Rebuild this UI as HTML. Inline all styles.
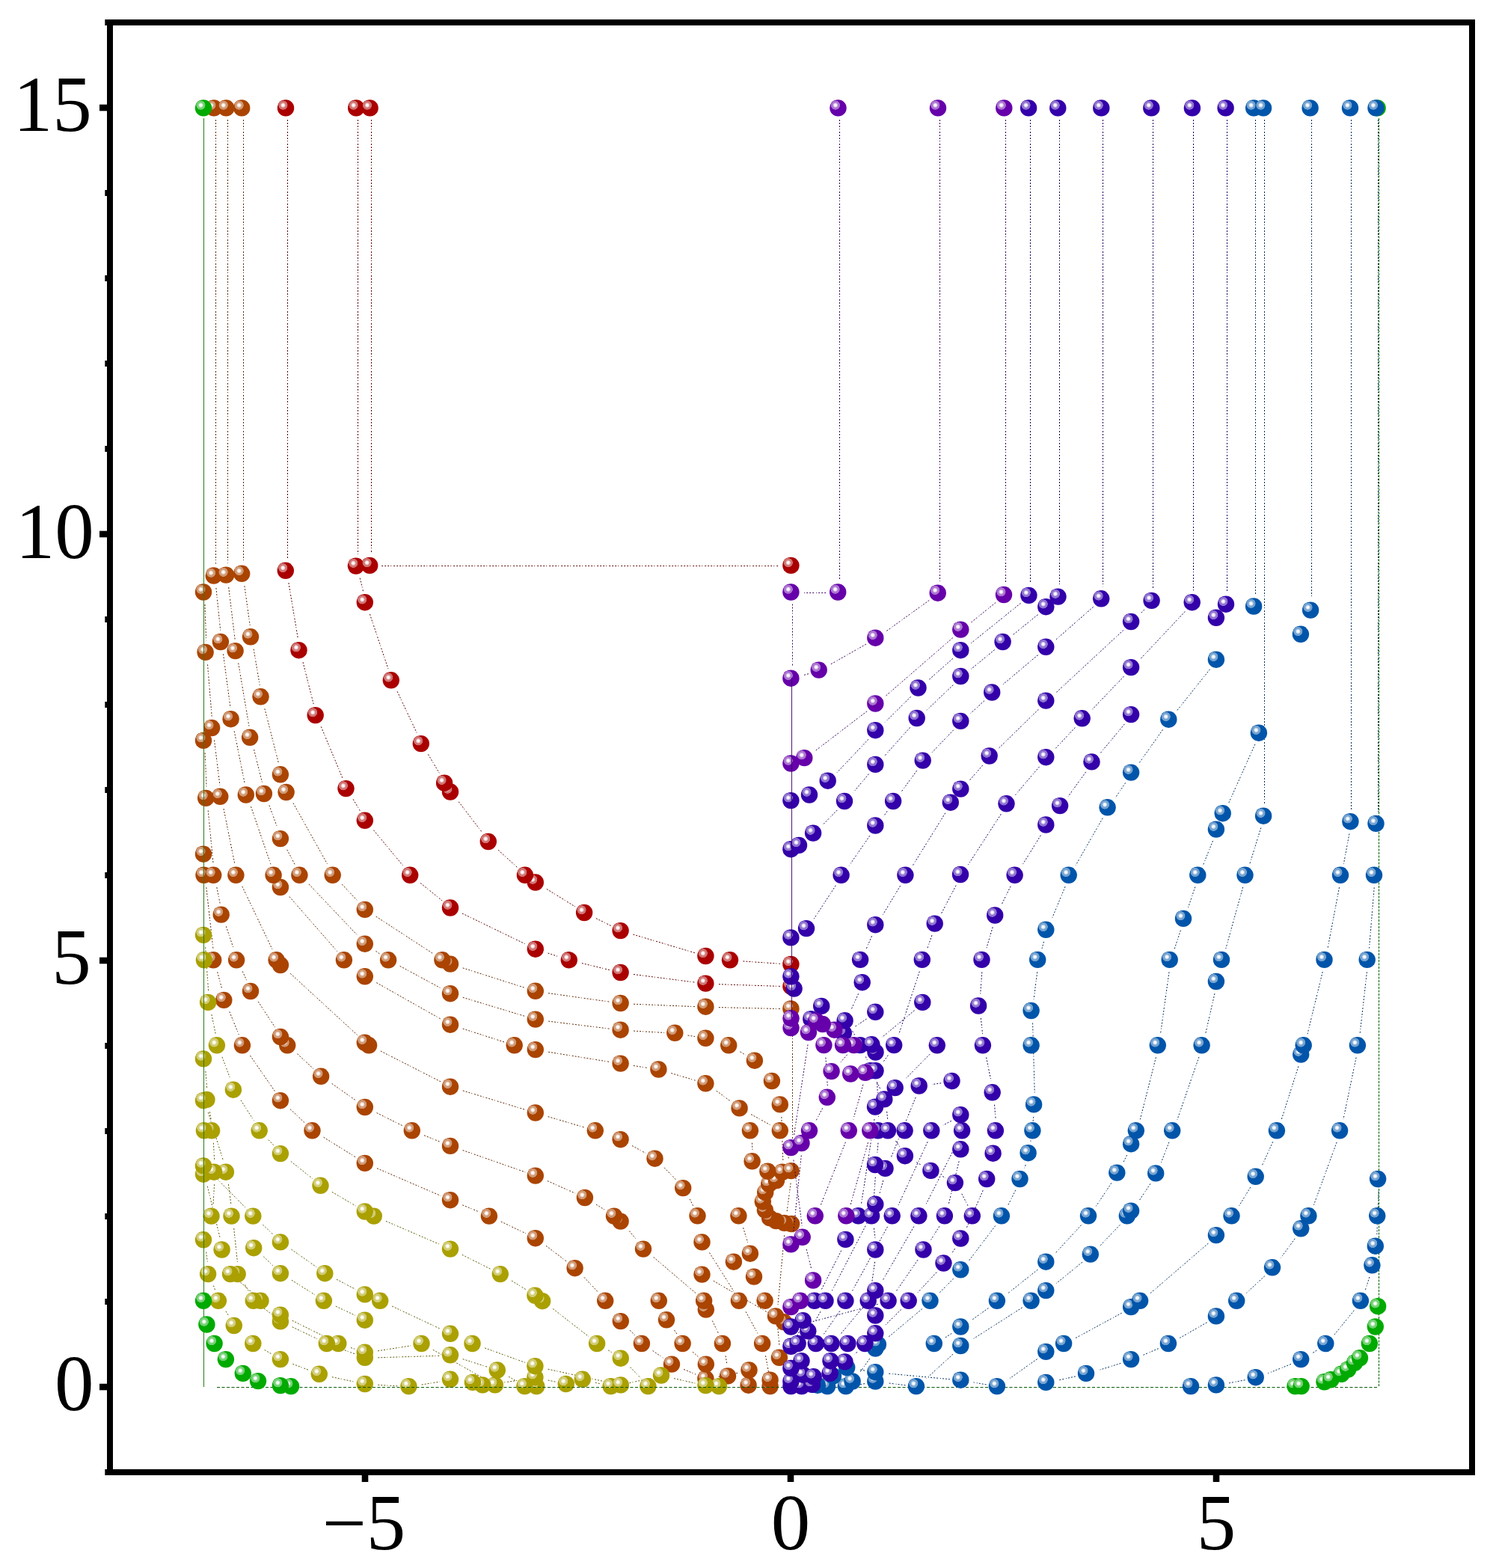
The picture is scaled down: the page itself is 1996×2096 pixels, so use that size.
<!DOCTYPE html>
<html><head><meta charset="utf-8"><title>plot</title><style>html,body{margin:0;padding:0;background:#fff}svg{display:block}</style></head>
<body><svg width="1996" height="2096" viewBox="0 0 1996 2096"><defs><radialGradient id="hR"><stop offset="0" stop-color="#fff"/><stop offset="0.18" stop-color="#fff"/><stop offset="0.4" stop-color="#eabfbf"/><stop offset="0.58" stop-color="#d07373"/><stop offset="0.9" stop-color="#d07373"/><stop offset="1" stop-color="#aa0000"/></radialGradient><g id="sR"><circle r="11.2" fill="#aa0000"/><circle cx="-3.6" cy="-3.8" r="6.4" fill="url(#hR)"/></g><radialGradient id="hB"><stop offset="0" stop-color="#fff"/><stop offset="0.18" stop-color="#fff"/><stop offset="0.4" stop-color="#ead0bf"/><stop offset="0.58" stop-color="#d09873"/><stop offset="0.9" stop-color="#d09873"/><stop offset="1" stop-color="#aa4400"/></radialGradient><g id="sB"><circle r="11.2" fill="#aa4400"/><circle cx="-3.6" cy="-3.8" r="6.4" fill="url(#hB)"/></g><radialGradient id="hY"><stop offset="0" stop-color="#fff"/><stop offset="0.18" stop-color="#fff"/><stop offset="0.4" stop-color="#eae7bf"/><stop offset="0.58" stop-color="#d0cb73"/><stop offset="0.9" stop-color="#d0cb73"/><stop offset="1" stop-color="#aaa000"/></radialGradient><g id="sY"><circle r="11.2" fill="#aaa000"/><circle cx="-3.6" cy="-3.8" r="6.4" fill="url(#hY)"/></g><radialGradient id="hG"><stop offset="0" stop-color="#fff"/><stop offset="0.18" stop-color="#fff"/><stop offset="0.4" stop-color="#bfeabf"/><stop offset="0.58" stop-color="#73d073"/><stop offset="0.9" stop-color="#73d073"/><stop offset="1" stop-color="#00aa00"/></radialGradient><g id="sG"><circle r="11.2" fill="#00aa00"/><circle cx="-3.6" cy="-3.8" r="6.4" fill="url(#hG)"/></g><radialGradient id="hL"><stop offset="0" stop-color="#fff"/><stop offset="0.18" stop-color="#fff"/><stop offset="0.4" stop-color="#bfd4ea"/><stop offset="0.58" stop-color="#73a2d0"/><stop offset="0.9" stop-color="#73a2d0"/><stop offset="1" stop-color="#0055aa"/></radialGradient><g id="sL"><circle r="11.2" fill="#0055aa"/><circle cx="-3.6" cy="-3.8" r="6.4" fill="url(#hL)"/></g><radialGradient id="hI"><stop offset="0" stop-color="#fff"/><stop offset="0.18" stop-color="#fff"/><stop offset="0.4" stop-color="#ccbfea"/><stop offset="0.58" stop-color="#8f73d0"/><stop offset="0.9" stop-color="#8f73d0"/><stop offset="1" stop-color="#3300aa"/></radialGradient><g id="sI"><circle r="11.2" fill="#3300aa"/><circle cx="-3.6" cy="-3.8" r="6.4" fill="url(#hI)"/></g><radialGradient id="hP"><stop offset="0" stop-color="#fff"/><stop offset="0.18" stop-color="#fff"/><stop offset="0.4" stop-color="#d9bfea"/><stop offset="0.58" stop-color="#ab73d0"/><stop offset="0.9" stop-color="#ab73d0"/><stop offset="1" stop-color="#6600aa"/></radialGradient><g id="sP"><circle r="11.2" fill="#6600aa"/><circle cx="-3.6" cy="-3.8" r="6.4" fill="url(#hP)"/></g></defs><rect width="1996" height="2096" fill="#fff"/>
<rect x="147" y="30" width="1821" height="1938" fill="none" stroke="#000" stroke-width="8"/>
<rect x="140.3" y="1964.0" width="5" height="8" fill="#000"/>
<rect x="133" y="1849.7" width="12" height="8.6" fill="#000"/>
<rect x="140.3" y="1736.0" width="5" height="8" fill="#000"/>
<rect x="140.3" y="1622.0" width="5" height="8" fill="#000"/>
<rect x="140.3" y="1508.0" width="5" height="8" fill="#000"/>
<rect x="140.3" y="1394.0" width="5" height="8" fill="#000"/>
<rect x="133" y="1279.7" width="12" height="8.6" fill="#000"/>
<rect x="140.3" y="1166.0" width="5" height="8" fill="#000"/>
<rect x="140.3" y="1052.0" width="5" height="8" fill="#000"/>
<rect x="140.3" y="938.0" width="5" height="8" fill="#000"/>
<rect x="140.3" y="824.0" width="5" height="8" fill="#000"/>
<rect x="133" y="709.7" width="12" height="8.6" fill="#000"/>
<rect x="140.3" y="596.0" width="5" height="8" fill="#000"/>
<rect x="140.3" y="482.0" width="5" height="8" fill="#000"/>
<rect x="140.3" y="368.0" width="5" height="8" fill="#000"/>
<rect x="140.3" y="254.0" width="5" height="8" fill="#000"/>
<rect x="133" y="139.7" width="12" height="8.6" fill="#000"/>
<rect x="140.3" y="26.0" width="5" height="8" fill="#000"/>
<rect x="483.7" y="1966" width="8.6" height="15" fill="#000"/>
<rect x="1052.7" y="1966" width="8.6" height="15" fill="#000"/>
<rect x="1621.7" y="1966" width="8.6" height="15" fill="#000"/>
<g style="font-family:&quot;Liberation Serif&quot;,serif;font-size:105px" fill="#000"><text x="122.8" y="175.0" text-anchor="end">15</text><text x="125.7" y="745.8" text-anchor="end">10</text><text x="121.7" y="1315.0" text-anchor="end">5</text><text x="125.6" y="1885.0" text-anchor="end">0</text><text x="486.5" y="2070.5" text-anchor="middle">−5</text><text x="1057.0" y="2070.5" text-anchor="middle">0</text><text x="1626.0" y="2070.5" text-anchor="middle">5</text></g>
<path d="M384.5 160.0L384.5 746.8M478.5 160.0L478.5 740.6M496.5 160.0L496.5 739.9M510.2 756.5L1041.4 756.5M385.9 779.1L398.4 853.9M405.0 885.2L419.2 941.1M429.3 971.4L457.8 1039.8M472.1 1068.4L481.2 1083.6M499.5 1109.7L539.5 1158.0M562.1 1180.4L591.1 1203.9M617.9 1221.0L702.9 1262.2M732.5 1274.1L747.1 1278.9M777.9 1287.6L815.6 1296.7M847.0 1302.5L929.1 1313.1M960.9 1315.7L1042.9 1318.4M481.2 772.7L485.5 790.2M494.4 820.9L519.2 894.7M531.1 924.3L557.4 980.1M572.4 1008.4L587.4 1033.5M613.2 1071.7L644.6 1112.8M666.1 1136.3L691.6 1159.5M730.9 1188.4L769.0 1212.0M796.9 1227.6L816.8 1237.5M846.4 1249.1L929.6 1273.9M993.4 1284.9L1042.9 1288.3" fill="none" stroke="#5d0000" stroke-width="1" stroke-dasharray="2 2 2 2 2 2 1 3"/>
<use href="#sR" x="1057.4" y="1318.5"/>
<use href="#sR" x="943.4" y="1314.6"/>
<use href="#sR" x="829.6" y="1300.0"/>
<use href="#sR" x="1057.4" y="1288.9"/>
<use href="#sR" x="760.8" y="1283.3"/>
<use href="#sR" x="976.0" y="1283.3"/>
<use href="#sR" x="943.4" y="1278.0"/>
<use href="#sR" x="715.8" y="1268.7"/>
<use href="#sR" x="829.6" y="1244.1"/>
<use href="#sR" x="781.1" y="1220.0"/>
<use href="#sR" x="602.0" y="1213.5"/>
<use href="#sR" x="715.8" y="1179.5"/>
<use href="#sR" x="548.2" y="1169.8"/>
<use href="#sR" x="701.9" y="1169.8"/>
<use href="#sR" x="652.8" y="1125.0"/>
<use href="#sR" x="487.8" y="1096.8"/>
<use href="#sR" x="602.0" y="1058.5"/>
<use href="#sR" x="462.5" y="1054.1"/>
<use href="#sR" x="594.1" y="1046.7"/>
<use href="#sR" x="562.8" y="994.1"/>
<use href="#sR" x="421.7" y="956.1"/>
<use href="#sR" x="522.8" y="909.3"/>
<use href="#sR" x="399.5" y="869.2"/>
<use href="#sR" x="487.8" y="805.2"/>
<use href="#sR" x="381.8" y="762.8"/>
<use href="#sR" x="475.9" y="756.6"/>
<use href="#sR" x="494.2" y="755.9"/>
<use href="#sR" x="1057.4" y="755.9"/>
<use href="#sR" x="382.0" y="144.4"/>
<use href="#sR" x="476.2" y="144.4"/>
<use href="#sR" x="494.6" y="144.4"/>
<path d="M288.5 160.0L288.5 753.5M304.5 160.0L304.5 752.6M325.5 160.0L325.5 750.8M1059.5 1376.0L1059.5 1544.0M288.9 785.9L294.7 842.5M298.5 874.3L308.0 945.9M313.2 977.4L327.2 1047.4M335.5 1078.2L361.9 1155.2M386.9 1198.6L450.8 1271.7M503.3 1313.6L589.6 1362.3M305.7 785.0L314.1 854.7M318.7 886.4L332.9 970.6M339.5 1001.9L350.5 1045.9M359.9 1076.5L370.9 1106.6M383.8 1135.8L394.5 1156.2M412.9 1181.9L478.3 1250.7M502.5 1271.4L507.4 1274.8M534.7 1291.4L589.4 1321.0M326.9 783.2L334.2 835.9M339.1 867.6L347.3 916.0M353.9 947.3L372.5 1020.3M392.0 1073.5L438.4 1156.4M457.2 1182.0L478.4 1204.7M502.7 1225.1L579.5 1275.1M274.0 808.0L275.6 856.4M277.5 888.3L283.2 957.6M286.5 989.4L293.9 1049.4M299.0 1081.0L313.8 1154.7M323.8 1184.8L364.2 1269.4M388.2 1301.3L477.5 1383.4M274.1 1006.4L276.0 1051.5M278.2 1083.4L285.1 1154.4M289.8 1186.0L294.1 1207.4M302.3 1238.3L312.5 1268.6M324.2 1298.4L329.9 1310.9M345.2 1338.9L367.6 1373.1M397.5 1408.7L418.8 1428.4M275.8 1186.2L284.9 1267.9M290.7 1299.3L296.7 1322.0M306.8 1352.3L319.3 1383.0M618.7 1375.1L673.9 1392.9M733.1 1406.2L815.3 1419.5M846.9 1424.5L866.1 1427.5M897.3 1434.6L929.6 1444.2M957.8 1458.2L977.2 1472.4M1004.1 1489.6L1030.3 1504.0M1048.5 1527.2L1054.9 1550.2M1057.1 1581.5L1052.1 1619.5M1048.6 1651.3L1040.0 1744.0M1039.9 1775.8L1042.0 1799.4M618.8 1333.3L702.0 1358.5M733.2 1365.1L815.2 1375.2M847.1 1378.1L887.8 1380.4M919.5 1384.0L929.1 1385.6M989.5 1405.9L996.6 1410.1M1044.8 1492.9L1046.8 1551.3M618.7 1293.9L702.1 1320.5M733.1 1327.6L815.3 1339.2M847.1 1342.2L928.9 1345.6M960.9 1346.6L1042.9 1348.5M508.9 1405.0L589.2 1445.9M618.8 1457.9L702.0 1483.3M732.6 1492.6L782.0 1507.2M845.1 1531.5L863.0 1541.5M888.1 1560.8L903.6 1577.0M922.1 1602.8L926.6 1611.6M948.5 1674.5L980.9 1725.8M997.1 1753.4L1012.9 1782.4M1023.5 1812.2L1028.2 1837.9M443.7 1448.5L476.2 1471.3M503.6 1487.6L538.0 1504.7M567.1 1517.7L588.6 1526.4M618.6 1537.6L702.2 1566.8M731.9 1578.6L768.8 1595.0M797.0 1610.0L809.0 1617.6M841.3 1645.5L851.4 1657.7M873.7 1680.5L930.5 1728.9M952.3 1765.5L960.4 1782.1M970.0 1812.3L971.9 1824.1M334.5 1411.0L367.3 1458.5M388.0 1482.6L407.3 1500.8M432.6 1520.2L475.7 1547.0M504.0 1561.7L588.8 1598.3M618.3 1610.8L640.6 1620.0M669.8 1633.0L702.9 1648.8M730.0 1665.3L757.3 1686.0M781.0 1707.4L799.8 1727.6M842.2 1778.2L848.5 1784.8M872.6 1805.5L886.4 1815.0M914.2 1830.4L930.2 1837.2M960.6 1840.3L987.3 1835.1M901.5 1778.0L905.1 1783.3M926.1 1807.1L933.3 1813.5M953.8 1712.2L1035.7 1759.8M993.6 1641.1L999.7 1660.9M1005.4 1527.7L1006.0 1536.8" fill="none" stroke="#5d2500" stroke-width="1" stroke-dasharray="2 2 2 2 2 2 1 3"/>
<use href="#sB" x="1029.6" y="1853.1"/>
<use href="#sB" x="1000.6" y="1851.7"/>
<use href="#sB" x="1029.6" y="1844.7"/>
<use href="#sB" x="943.4" y="1842.9"/>
<use href="#sB" x="973.0" y="1839.4"/>
<use href="#sB" x="1001.5" y="1831.5"/>
<use href="#sB" x="898.0" y="1823.6"/>
<use href="#sB" x="943.8" y="1823.6"/>
<use href="#sB" x="1041.9" y="1814.8"/>
<use href="#sB" x="857.9" y="1796.0"/>
<use href="#sB" x="912.6" y="1796.0"/>
<use href="#sB" x="965.9" y="1796.0"/>
<use href="#sB" x="1019.1" y="1796.0"/>
<use href="#sB" x="829.8" y="1766.1"/>
<use href="#sB" x="1048.1" y="1767.3"/>
<use href="#sB" x="891.0" y="1764.3"/>
<use href="#sB" x="1037.0" y="1759.4"/>
<use href="#sB" x="943.8" y="1750.6"/>
<use href="#sB" x="809.2" y="1738.8"/>
<use href="#sB" x="880.8" y="1738.8"/>
<use href="#sB" x="941.1" y="1738.8"/>
<use href="#sB" x="987.9" y="1738.8"/>
<use href="#sB" x="1022.6" y="1738.8"/>
<use href="#sB" x="1008.0" y="1706.6"/>
<use href="#sB" x="938.5" y="1703.6"/>
<use href="#sB" x="768.6" y="1695.2"/>
<use href="#sB" x="980.9" y="1686.7"/>
<use href="#sB" x="1002.9" y="1675.7"/>
<use href="#sB" x="860.0" y="1669.6"/>
<use href="#sB" x="938.5" y="1660.4"/>
<use href="#sB" x="715.8" y="1655.2"/>
<use href="#sB" x="1058.1" y="1636.0"/>
<use href="#sB" x="1048.6" y="1634.9"/>
<use href="#sB" x="829.6" y="1632.6"/>
<use href="#sB" x="1037.5" y="1632.1"/>
<use href="#sB" x="1029.1" y="1628.2"/>
<use href="#sB" x="821.0" y="1625.6"/>
<use href="#sB" x="653.9" y="1625.6"/>
<use href="#sB" x="932.5" y="1625.3"/>
<use href="#sB" x="987.4" y="1625.3"/>
<use href="#sB" x="1022.9" y="1617.6"/>
<use href="#sB" x="602.0" y="1604.2"/>
<use href="#sB" x="1019.8" y="1606.3"/>
<use href="#sB" x="781.9" y="1601.0"/>
<use href="#sB" x="1023.2" y="1594.0"/>
<use href="#sB" x="913.2" y="1588.1"/>
<use href="#sB" x="1028.2" y="1582.9"/>
<use href="#sB" x="1038.0" y="1578.0"/>
<use href="#sB" x="715.8" y="1571.6"/>
<use href="#sB" x="1045.8" y="1566.8"/>
<use href="#sB" x="1057.6" y="1565.1"/>
<use href="#sB" x="1026.3" y="1565.7"/>
<use href="#sB" x="487.8" y="1554.9"/>
<use href="#sB" x="1005.6" y="1552.3"/>
<use href="#sB" x="875.5" y="1548.7"/>
<use href="#sB" x="602.0" y="1531.9"/>
<use href="#sB" x="829.6" y="1523.2"/>
<use href="#sB" x="417.5" y="1511.3"/>
<use href="#sB" x="550.8" y="1511.3"/>
<use href="#sB" x="795.8" y="1511.3"/>
<use href="#sB" x="1002.9" y="1511.3"/>
<use href="#sB" x="1042.8" y="1511.3"/>
<use href="#sB" x="715.8" y="1487.5"/>
<use href="#sB" x="988.6" y="1481.4"/>
<use href="#sB" x="487.8" y="1480.0"/>
<use href="#sB" x="1042.8" y="1476.4"/>
<use href="#sB" x="374.9" y="1471.2"/>
<use href="#sB" x="602.0" y="1452.7"/>
<use href="#sB" x="943.4" y="1448.3"/>
<use href="#sB" x="1031.9" y="1445.0"/>
<use href="#sB" x="429.1" y="1438.8"/>
<use href="#sB" x="880.4" y="1429.5"/>
<use href="#sB" x="829.6" y="1421.6"/>
<use href="#sB" x="1008.9" y="1417.7"/>
<use href="#sB" x="715.8" y="1403.1"/>
<use href="#sB" x="323.9" y="1397.3"/>
<use href="#sB" x="384.2" y="1397.3"/>
<use href="#sB" x="493.1" y="1397.3"/>
<use href="#sB" x="687.7" y="1397.3"/>
<use href="#sB" x="974.2" y="1397.3"/>
<use href="#sB" x="487.8" y="1393.8"/>
<use href="#sB" x="943.4" y="1387.8"/>
<use href="#sB" x="374.9" y="1386.0"/>
<use href="#sB" x="902.3" y="1380.8"/>
<use href="#sB" x="829.6" y="1376.7"/>
<use href="#sB" x="602.0" y="1369.7"/>
<use href="#sB" x="715.8" y="1362.6"/>
<use href="#sB" x="943.4" y="1345.7"/>
<use href="#sB" x="1057.4" y="1348.4"/>
<use href="#sB" x="829.6" y="1341.0"/>
<use href="#sB" x="299.3" y="1336.9"/>
<use href="#sB" x="602.0" y="1328.2"/>
<use href="#sB" x="335.0" y="1325.0"/>
<use href="#sB" x="715.8" y="1324.8"/>
<use href="#sB" x="487.8" y="1305.3"/>
<use href="#sB" x="374.9" y="1290.0"/>
<use href="#sB" x="602.0" y="1288.6"/>
<use href="#sB" x="285.2" y="1283.3"/>
<use href="#sB" x="316.1" y="1283.3"/>
<use href="#sB" x="369.6" y="1283.3"/>
<use href="#sB" x="459.9" y="1283.3"/>
<use href="#sB" x="519.1" y="1283.3"/>
<use href="#sB" x="591.4" y="1283.3"/>
<use href="#sB" x="487.8" y="1261.8"/>
<use href="#sB" x="295.7" y="1222.6"/>
<use href="#sB" x="487.8" y="1215.9"/>
<use href="#sB" x="374.9" y="1186.0"/>
<use href="#sB" x="272.5" y="1169.8"/>
<use href="#sB" x="285.2" y="1169.8"/>
<use href="#sB" x="315.4" y="1169.8"/>
<use href="#sB" x="365.6" y="1169.8"/>
<use href="#sB" x="400.4" y="1169.8"/>
<use href="#sB" x="444.7" y="1169.8"/>
<use href="#sB" x="272.0" y="1141.7"/>
<use href="#sB" x="374.9" y="1121.1"/>
<use href="#sB" x="275.2" y="1066.9"/>
<use href="#sB" x="294.3" y="1064.8"/>
<use href="#sB" x="328.8" y="1062.5"/>
<use href="#sB" x="352.9" y="1061.0"/>
<use href="#sB" x="382.6" y="1059.0"/>
<use href="#sB" x="374.9" y="1035.3"/>
<use href="#sB" x="272.0" y="989.9"/>
<use href="#sB" x="334.1" y="985.8"/>
<use href="#sB" x="283.1" y="973.0"/>
<use href="#sB" x="308.6" y="961.2"/>
<use href="#sB" x="348.5" y="931.3"/>
<use href="#sB" x="274.6" y="871.9"/>
<use href="#sB" x="314.6" y="870.1"/>
<use href="#sB" x="294.9" y="858.0"/>
<use href="#sB" x="335.0" y="851.3"/>
<use href="#sB" x="272.0" y="791.5"/>
<use href="#sB" x="285.7" y="769.5"/>
<use href="#sB" x="302.2" y="768.6"/>
<use href="#sB" x="323.2" y="766.8"/>
<use href="#sB" x="286.0" y="144.4"/>
<use href="#sB" x="302.3" y="144.4"/>
<use href="#sB" x="323.2" y="144.4"/>
<path d="M274.6 1266.3L278.6 1324.5M282.9 1356.1L288.2 1382.1M297.0 1412.8L307.9 1442.2M322.0 1470.7L339.6 1498.3M359.0 1523.6L365.6 1530.7M388.9 1552.5L417.5 1575.3M443.9 1593.4L475.5 1611.9M516.0 1632.4L588.8 1663.8M617.8 1677.3L656.0 1696.4M684.0 1712.0L703.3 1723.9M739.2 1749.5L787.0 1786.6M813.2 1804.9L817.7 1807.7M842.5 1827.6L856.7 1842.2M274.8 1431.9L276.6 1454.5M280.4 1486.2L282.0 1496.0M285.4 1527.8L286.7 1551.2M286.6 1583.2L285.0 1610.1M275.6 1673.6L277.5 1687.7M285.4 1718.5L287.6 1724.4M301.9 1752.8L305.8 1759.0M353.7 1804.5L362.5 1809.6M391.3 1823.3L413.3 1831.6M443.9 1840.7L473.7 1847.1M505.3 1851.3L531.9 1852.8M563.7 1851.0L587.7 1847.0M662.4 1849.6L701.1 1844.0M732.6 1845.0L742.6 1847.1M795.8 1848.1L802.6 1849.8M833.7 1850.3L869.8 1842.4M901.1 1842.6L929.3 1849.0M278.3 1486.9L298.6 1551.9M305.4 1583.1L308.9 1610.2M312.7 1642.0L317.5 1687.7M327.4 1717.4L332.2 1725.5M353.0 1749.0L363.7 1757.2M390.8 1773.8L423.9 1789.6M453.3 1802.0L474.3 1809.8M505.3 1814.8L587.5 1812.3M618.7 1816.7L651.1 1827.1M680.1 1840.1L689.1 1845.5M284.7 1570.3L328.6 1614.7M351.4 1637.1L364.8 1649.9M389.5 1670.1L422.8 1693.5M450.0 1710.2L475.2 1723.4M524.2 1746.1L589.0 1776.5M648.1 1801.9L701.9 1821.3M732.6 1830.2L815.7 1848.4M277.3 1585.7L294.3 1655.4M321.5 1714.2L338.0 1728.7M390.7 1765.2L439.4 1789.4M469.0 1801.5L474.1 1803.2M505.1 1805.8L549.1 1798.9M578.9 1804.3L649.4 1844.0M352.3 1679.7L364.8 1691.7M389.9 1711.2L420.9 1730.8M448.9 1746.1L474.8 1758.3" fill="none" stroke="#5d5800" stroke-width="1" stroke-dasharray="2 2 2 2 2 2 1 3"/>
<use href="#sY" x="546.4" y="1853.1"/>
<use href="#sY" x="717.2" y="1853.1"/>
<use href="#sY" x="701.4" y="1853.1"/>
<use href="#sY" x="816.6" y="1853.1"/>
<use href="#sY" x="866.4" y="1853.1"/>
<use href="#sY" x="961.0" y="1853.1"/>
<use href="#sY" x="487.8" y="1850.0"/>
<use href="#sY" x="661.8" y="1851.4"/>
<use href="#sY" x="645.1" y="1851.4"/>
<use href="#sY" x="756.8" y="1850.0"/>
<use href="#sY" x="829.8" y="1851.4"/>
<use href="#sY" x="943.4" y="1852.1"/>
<use href="#sY" x="631.9" y="1847.9"/>
<use href="#sY" x="602.0" y="1843.8"/>
<use href="#sY" x="778.8" y="1843.8"/>
<use href="#sY" x="715.4" y="1841.2"/>
<use href="#sY" x="884.0" y="1838.5"/>
<use href="#sY" x="426.8" y="1836.8"/>
<use href="#sY" x="664.8" y="1831.5"/>
<use href="#sY" x="715.4" y="1826.2"/>
<use href="#sY" x="374.9" y="1817.1"/>
<use href="#sY" x="487.8" y="1814.8"/>
<use href="#sY" x="829.8" y="1815.7"/>
<use href="#sY" x="602.0" y="1811.3"/>
<use href="#sY" x="487.8" y="1807.8"/>
<use href="#sY" x="338.3" y="1796.0"/>
<use href="#sY" x="452.3" y="1796.0"/>
<use href="#sY" x="436.8" y="1796.0"/>
<use href="#sY" x="563.5" y="1796.0"/>
<use href="#sY" x="631.5" y="1796.0"/>
<use href="#sY" x="798.1" y="1796.0"/>
<use href="#sY" x="602.0" y="1782.8"/>
<use href="#sY" x="312.8" y="1772.0"/>
<use href="#sY" x="374.9" y="1766.4"/>
<use href="#sY" x="487.8" y="1764.7"/>
<use href="#sY" x="374.9" y="1757.6"/>
<use href="#sY" x="291.9" y="1738.8"/>
<use href="#sY" x="348.5" y="1738.8"/>
<use href="#sY" x="338.8" y="1738.8"/>
<use href="#sY" x="432.9" y="1738.8"/>
<use href="#sY" x="508.2" y="1738.8"/>
<use href="#sY" x="725.1" y="1739.2"/>
<use href="#sY" x="487.8" y="1730.4"/>
<use href="#sY" x="715.4" y="1731.8"/>
<use href="#sY" x="278.1" y="1703.1"/>
<use href="#sY" x="317.7" y="1703.1"/>
<use href="#sY" x="308.0" y="1703.1"/>
<use href="#sY" x="668.8" y="1703.1"/>
<use href="#sY" x="374.9" y="1702.2"/>
<use href="#sY" x="434.3" y="1702.2"/>
<use href="#sY" x="296.6" y="1670.5"/>
<use href="#sY" x="602.0" y="1669.6"/>
<use href="#sY" x="339.2" y="1668.2"/>
<use href="#sY" x="374.9" y="1660.4"/>
<use href="#sY" x="272.0" y="1657.3"/>
<use href="#sY" x="282.5" y="1625.6"/>
<use href="#sY" x="309.5" y="1625.6"/>
<use href="#sY" x="338.3" y="1625.6"/>
<use href="#sY" x="499.8" y="1625.6"/>
<use href="#sY" x="487.8" y="1619.5"/>
<use href="#sY" x="428.5" y="1584.8"/>
<use href="#sY" x="272.0" y="1569.7"/>
<use href="#sY" x="301.9" y="1566.7"/>
<use href="#sY" x="286.1" y="1566.7"/>
<use href="#sY" x="272.0" y="1558.4"/>
<use href="#sY" x="374.9" y="1542.1"/>
<use href="#sY" x="283.1" y="1511.3"/>
<use href="#sY" x="272.9" y="1511.3"/>
<use href="#sY" x="346.7" y="1511.3"/>
<use href="#sY" x="276.4" y="1469.9"/>
<use href="#sY" x="272.0" y="1471.2"/>
<use href="#sY" x="311.9" y="1456.7"/>
<use href="#sY" x="272.0" y="1415.4"/>
<use href="#sY" x="289.9" y="1397.3"/>
<use href="#sY" x="278.1" y="1339.9"/>
<use href="#sY" x="272.9" y="1283.3"/>
<use href="#sY" x="272.0" y="1249.9"/>
<path d="M272.5 158V1854" fill="none" stroke="#2a7a1a" stroke-width="1"/>
<path d="M1843.5 158V1854" fill="none" stroke="#005d00" stroke-width="1" stroke-dasharray="3 1.5"/>
<path d="M290 1854.5H1843" fill="none" stroke="#005d00" stroke-width="1" stroke-dasharray="4 2.5"/>
<use href="#sG" x="389.0" y="1853.1"/>
<use href="#sG" x="1731.5" y="1853.1"/>
<use href="#sG" x="1739.7" y="1853.1"/>
<use href="#sG" x="374.9" y="1852.1"/>
<use href="#sG" x="1770.5" y="1847.3"/>
<use href="#sG" x="345.0" y="1846.1"/>
<use href="#sG" x="1779.3" y="1844.3"/>
<use href="#sG" x="324.8" y="1835.9"/>
<use href="#sG" x="1793.4" y="1836.8"/>
<use href="#sG" x="1802.2" y="1830.6"/>
<use href="#sG" x="1811.0" y="1821.8"/>
<use href="#sG" x="301.9" y="1817.1"/>
<use href="#sG" x="1818.0" y="1815.3"/>
<use href="#sG" x="286.6" y="1796.0"/>
<use href="#sG" x="1830.9" y="1796.0"/>
<use href="#sG" x="1838.8" y="1773.5"/>
<use href="#sG" x="276.4" y="1770.5"/>
<use href="#sG" x="1842.1" y="1746.2"/>
<use href="#sG" x="272.0" y="1738.8"/>
<use href="#sG" x="272.0" y="144.4"/>
<use href="#sG" x="1841.6" y="144.4"/>
<path d="M1678.5 160.0L1678.5 794.5M1690.5 160.0L1690.5 1074.7M1753.5 160.0L1753.5 799.6M1806.5 160.0L1806.5 1082.3M1842.5 160.0L1842.5 1084.9M1685.8 1106.5L1670.7 1155.1M1661.7 1185.8L1638.8 1268.0M1623.9 1328.1L1611.6 1382.2M1602.9 1412.9L1573.9 1496.7M1562.9 1526.7L1552.4 1554.0M1537.9 1582.3L1522.4 1605.7M1497.3 1637.3L1470.3 1665.6M1446.9 1687.2L1412.2 1715.5M1366.6 1747.9L1299.3 1790.9M1274.0 1810.2L1238.2 1842.9M1210.5 1851.7L1187.7 1848.9M1156.1 1849.6L1148.0 1851.0M1803.9 1114.5L1796.4 1154.6M1790.5 1186.1L1775.0 1267.7M1768.2 1299.0L1748.0 1382.2M1735.9 1425.4L1713.2 1496.5M1701.7 1526.3L1686.9 1558.8M1671.8 1587.0L1656.4 1612.1M1615.3 1662.1L1537.7 1728.9M1499.6 1755.2L1437.6 1788.8M1386.7 1816.6L1347.4 1844.4M1318.6 1850.9L1301.6 1847.9M1269.9 1843.7L1187.8 1836.1M1156.0 1832.1L1149.5 1831.0M1120.0 1836.8L1108.1 1843.9M1617.5 894.7L1573.7 949.7M1554.5 975.3L1522.9 1020.1M1504.7 1046.4L1491.1 1066.5M1474.2 1093.6L1438.2 1156.5M1424.1 1185.1L1406.0 1228.6M1395.5 1258.8L1393.0 1268.0M1386.7 1299.3L1382.1 1335.6M1380.6 1367.5L1383.2 1461.0M1381.8 1492.8L1377.9 1525.8M1371.2 1556.9L1369.8 1561.3M1357.8 1590.8L1347.5 1611.4M1330.7 1638.5L1295.5 1685.0M1274.6 1709.2L1256.2 1727.9M1232.8 1749.6L1187.6 1787.4M1162.7 1816.1L1150.2 1833.8M1677.9 994.8L1642.8 1073.1M1621.5 1124.0L1608.8 1155.5M1597.8 1185.5L1588.5 1213.2M1578.4 1243.6L1570.2 1268.3M1563.0 1299.3L1551.5 1381.9M1545.4 1413.3L1524.3 1496.3M1506.6 1544.1L1501.8 1553.7M1485.9 1581.4L1465.3 1612.4M1445.6 1637.5L1410.7 1675.5M1387.3 1697.2L1346.9 1729.3M1321.4 1748.6L1298.9 1764.7M1272.3 1782.5L1263.8 1787.9M1837.2 1186.3L1830.5 1267.5M1827.4 1299.3L1818.1 1381.9M1813.1 1413.5L1795.9 1496.1M1787.1 1526.8L1756.4 1610.7M1731.2 1655.7L1712.0 1681.9M1690.8 1705.7L1666.4 1728.4M1613.5 1767.8L1577.3 1788.5M1548.7 1802.7L1528.4 1811.3M1498.3 1822.4L1468.7 1831.6M1437.8 1839.9L1415.4 1844.9M1843.0 1592.5L1840.9 1650.2M1830.9 1707.0L1825.4 1724.1M1810.3 1751.7L1783.9 1784.1M1760.3 1805.1L1754.2 1809.0M1725.9 1823.5L1695.1 1835.8M1664.5 1844.7L1643.1 1848.8" fill="none" stroke="#002e5d" stroke-width="1" stroke-dasharray="2 2 2 2 2 2 1 3"/>
<use href="#sL" x="1106.1" y="1853.1"/>
<use href="#sL" x="1130.8" y="1853.1"/>
<use href="#sL" x="1224.9" y="1853.1"/>
<use href="#sL" x="1332.9" y="1853.1"/>
<use href="#sL" x="1592.0" y="1853.1"/>
<use href="#sL" x="1092.9" y="1851.7"/>
<use href="#sL" x="1625.9" y="1851.4"/>
<use href="#sL" x="1398.3" y="1847.9"/>
<use href="#sL" x="1170.3" y="1846.5"/>
<use href="#sL" x="1139.6" y="1846.5"/>
<use href="#sL" x="1284.3" y="1844.7"/>
<use href="#sL" x="1678.7" y="1841.2"/>
<use href="#sL" x="1114.0" y="1839.4"/>
<use href="#sL" x="1452.0" y="1835.9"/>
<use href="#sL" x="1170.3" y="1834.1"/>
<use href="#sL" x="1132.2" y="1828.0"/>
<use href="#sL" x="1512.1" y="1817.1"/>
<use href="#sL" x="1739.2" y="1817.1"/>
<use href="#sL" x="1398.3" y="1806.9"/>
<use href="#sL" x="1170.3" y="1802.5"/>
<use href="#sL" x="1284.3" y="1799.0"/>
<use href="#sL" x="1173.9" y="1797.2"/>
<use href="#sL" x="1248.8" y="1796.0"/>
<use href="#sL" x="1422.1" y="1796.0"/>
<use href="#sL" x="1561.9" y="1796.0"/>
<use href="#sL" x="1772.3" y="1796.0"/>
<use href="#sL" x="1284.3" y="1773.5"/>
<use href="#sL" x="1625.9" y="1759.4"/>
<use href="#sL" x="1512.1" y="1747.1"/>
<use href="#sL" x="1332.9" y="1738.8"/>
<use href="#sL" x="1378.6" y="1738.8"/>
<use href="#sL" x="1243.5" y="1738.8"/>
<use href="#sL" x="1524.1" y="1738.8"/>
<use href="#sL" x="1653.2" y="1738.8"/>
<use href="#sL" x="1818.9" y="1738.8"/>
<use href="#sL" x="1398.3" y="1725.1"/>
<use href="#sL" x="1284.3" y="1697.3"/>
<use href="#sL" x="1701.0" y="1694.3"/>
<use href="#sL" x="1834.4" y="1691.3"/>
<use href="#sL" x="1398.3" y="1686.7"/>
<use href="#sL" x="1457.8" y="1676.6"/>
<use href="#sL" x="1838.8" y="1665.7"/>
<use href="#sL" x="1625.9" y="1651.1"/>
<use href="#sL" x="1739.2" y="1642.3"/>
<use href="#sL" x="1338.9" y="1625.3"/>
<use href="#sL" x="1455.0" y="1625.3"/>
<use href="#sL" x="1506.8" y="1625.3"/>
<use href="#sL" x="1646.5" y="1625.3"/>
<use href="#sL" x="1749.4" y="1625.3"/>
<use href="#sL" x="1841.2" y="1625.3"/>
<use href="#sL" x="1512.1" y="1618.6"/>
<use href="#sL" x="1363.5" y="1576.0"/>
<use href="#sL" x="1842.1" y="1576.0"/>
<use href="#sL" x="1678.7" y="1572.8"/>
<use href="#sL" x="1493.3" y="1567.6"/>
<use href="#sL" x="1545.2" y="1568.4"/>
<use href="#sL" x="1374.6" y="1541.2"/>
<use href="#sL" x="1512.1" y="1529.2"/>
<use href="#sL" x="1380.4" y="1511.3"/>
<use href="#sL" x="1518.8" y="1511.3"/>
<use href="#sL" x="1567.2" y="1511.3"/>
<use href="#sL" x="1706.9" y="1511.3"/>
<use href="#sL" x="1791.1" y="1511.3"/>
<use href="#sL" x="1382.1" y="1476.4"/>
<use href="#sL" x="1739.2" y="1409.6"/>
<use href="#sL" x="1378.6" y="1397.3"/>
<use href="#sL" x="1547.8" y="1397.3"/>
<use href="#sL" x="1606.6" y="1397.3"/>
<use href="#sL" x="1742.7" y="1397.3"/>
<use href="#sL" x="1814.9" y="1397.3"/>
<use href="#sL" x="1378.6" y="1351.0"/>
<use href="#sL" x="1625.9" y="1312.0"/>
<use href="#sL" x="1387.2" y="1282.9"/>
<use href="#sL" x="1563.7" y="1282.9"/>
<use href="#sL" x="1633.0" y="1282.9"/>
<use href="#sL" x="1770.5" y="1282.9"/>
<use href="#sL" x="1827.7" y="1282.9"/>
<use href="#sL" x="1398.3" y="1242.8"/>
<use href="#sL" x="1582.0" y="1227.9"/>
<use href="#sL" x="1428.7" y="1169.8"/>
<use href="#sL" x="1601.3" y="1169.8"/>
<use href="#sL" x="1664.5" y="1169.8"/>
<use href="#sL" x="1792.0" y="1169.8"/>
<use href="#sL" x="1837.0" y="1169.8"/>
<use href="#sL" x="1625.9" y="1108.6"/>
<use href="#sL" x="1839.5" y="1100.9"/>
<use href="#sL" x="1805.4" y="1098.2"/>
<use href="#sL" x="1689.1" y="1090.7"/>
<use href="#sL" x="1634.7" y="1087.2"/>
<use href="#sL" x="1480.6" y="1079.3"/>
<use href="#sL" x="1512.1" y="1032.6"/>
<use href="#sL" x="1682.9" y="979.7"/>
<use href="#sL" x="1562.3" y="961.7"/>
<use href="#sL" x="1625.9" y="881.7"/>
<use href="#sL" x="1738.9" y="847.8"/>
<use href="#sL" x="1752.1" y="815.6"/>
<use href="#sL" x="1676.1" y="810.5"/>
<use href="#sL" x="1676.2" y="144.4"/>
<use href="#sL" x="1689.0" y="144.4"/>
<use href="#sL" x="1751.6" y="144.4"/>
<use href="#sL" x="1805.0" y="144.4"/>
<use href="#sL" x="1839.5" y="144.4"/>
<path d="M1377.5 160.0L1377.5 779.9M1416.5 160.0L1416.5 781.6M1474.5 160.0L1474.5 784.3M1541.5 160.0L1541.5 786.9M1595.5 160.0L1595.5 789.2M1640.5 160.0L1640.5 791.7M1364.5 806.4L1298.3 859.7M1273.8 880.3L1241.0 909.4M1217.6 931.3L1183.2 965.4M1160.9 988.3L1119.1 1032.6M1387.4 821.7L1354.5 848.4M1329.7 868.6L1298.2 894.4M1274.3 915.6L1238.8 949.4M1216.6 972.4L1182.5 1010.5M1161.5 1034.6L1140.8 1059.2M1119.3 1082.9L1099.9 1102.6M1461.6 811.3L1411.9 854.8M1387.6 875.6L1339.9 915.7M1315.9 936.8L1297.6 953.5M1274.7 975.9L1246.2 1005.6M1225.7 1030.1L1205.0 1058.5M1186.1 1084.4L1181.3 1091.1M1162.8 1117.2L1135.2 1157.2M1117.3 1183.7L1088.2 1228.2M1529.9 814.9L1524.8 820.1M1501.9 842.4L1411.5 926.2M1388.4 948.3L1335.6 999.8M1313.7 1023.0L1296.3 1043.0M1263.8 1086.8L1220.4 1156.8M1203.7 1184.0L1180.1 1223.0M1165.5 1251.3L1158.0 1268.8M1147.6 1328.3L1137.7 1350.2M1139.6 1378.4L1143.0 1384.0M1157.4 1412.5L1159.3 1416.9M1172.2 1446.2L1176.8 1455.5M1185.6 1485.8L1186.7 1495.9M1197.5 1525.0L1202.5 1532.5M1225.3 1553.7L1232.0 1557.5M1260.2 1572.5L1264.1 1574.5M1285.8 1595.8L1293.9 1611.6M1584.3 817.4L1524.6 880.9M1502.5 904.1L1459.3 949.3M1437.3 972.5L1410.7 1001.0M1389.5 1024.9L1357.4 1062.6M1338.3 1088.2L1294.2 1156.1M1278.1 1183.6L1258.6 1220.9M1245.9 1250.2L1239.6 1268.3M1229.3 1298.6L1201.7 1382.4M1187.3 1410.6L1181.4 1418.8M1172.7 1447.8L1174.7 1495.8M1174.0 1527.7L1172.8 1541.6M1170.3 1573.5L1167.7 1609.8M1168.4 1641.7L1170.0 1655.1M1169.6 1686.8L1164.4 1723.5M1166.2 1774.0L1163.4 1781.5M1146.0 1807.3L1142.8 1810.1M1503.4 967.9L1471.2 1006.6M1451.7 1031.9L1428.0 1064.7M1391.4 1116.6L1366.5 1156.7M1351.1 1184.7L1338.8 1209.6M1327.2 1239.3L1318.6 1268.1M1312.8 1299.4L1310.7 1329.1M1311.3 1360.9L1313.6 1381.9M1318.6 1413.5L1325.0 1445.1M1329.5 1476.7L1331.1 1495.8M1314.2 1591.2L1292.2 1641.4M1276.7 1669.2L1272.1 1675.8M1252.1 1700.7L1227.1 1727.6M1204.7 1750.5L1183.3 1771.6M1156.8 1788.3L1149.9 1790.9M1222.5 1350.7L1179.2 1386.6M1158.5 1362.1L1142.6 1372.6M1243.1 1409.2L1209.5 1443.2M1186.6 1465.7L1183.1 1469.1M1169.0 1495.9L1151.4 1609.9M1124.7 1671.7L1097.6 1725.0M1068.3 1780.2L1065.7 1785.8M1065.2 1815.1L1068.8 1823.5M1258.2 1447.8L1246.1 1449.6M1224.2 1466.8L1191.1 1547.6M1180.8 1577.9L1176.1 1594.9M1164.5 1624.5L1112.4 1725.1M1097.0 1753.2L1089.7 1765.9M1271.8 1498.3L1260.9 1504.2M1240.1 1526.3L1200.9 1611.2M1186.5 1639.8L1139.6 1725.3M1122.8 1752.5L1101.4 1783.3M1280.4 1526.1L1237.1 1611.5M1221.8 1639.6L1179.9 1711.8M1161.6 1737.9L1123.1 1784.2M1282.1 1552.3L1268.1 1610.2M1255.9 1639.3L1244.5 1657.4M1227.0 1684.2L1198.1 1726.1M1173.6 1743.4L1074.4 1769.8" fill="none" stroke="#1c005d" stroke-width="1" stroke-dasharray="2 2 2 2 2 2 1 3"/>
<use href="#sI" x="1057.4" y="1853.1"/>
<use href="#sI" x="1071.8" y="1853.1"/>
<use href="#sI" x="1085.9" y="1850.9"/>
<use href="#sI" x="1057.4" y="1846.5"/>
<use href="#sI" x="1073.6" y="1837.7"/>
<use href="#sI" x="1087.7" y="1840.3"/>
<use href="#sI" x="1109.6" y="1835.9"/>
<use href="#sI" x="1057.4" y="1828.9"/>
<use href="#sI" x="1129.5" y="1820.4"/>
<use href="#sI" x="1071.5" y="1819.2"/>
<use href="#sI" x="1110.5" y="1819.2"/>
<use href="#sI" x="1057.4" y="1799.8"/>
<use href="#sI" x="1066.6" y="1796.0"/>
<use href="#sI" x="1090.8" y="1796.0"/>
<use href="#sI" x="1111.4" y="1796.0"/>
<use href="#sI" x="1133.4" y="1796.0"/>
<use href="#sI" x="1156.3" y="1796.0"/>
<use href="#sI" x="1170.3" y="1782.3"/>
<use href="#sI" x="1080.3" y="1779.3"/>
<use href="#sI" x="1057.4" y="1773.5"/>
<use href="#sI" x="1073.6" y="1765.2"/>
<use href="#sI" x="1170.3" y="1758.5"/>
<use href="#sI" x="1088.9" y="1738.8"/>
<use href="#sI" x="1103.5" y="1738.8"/>
<use href="#sI" x="1130.4" y="1738.8"/>
<use href="#sI" x="1160.7" y="1738.8"/>
<use href="#sI" x="1187.6" y="1738.8"/>
<use href="#sI" x="1214.7" y="1738.8"/>
<use href="#sI" x="1170.3" y="1725.1"/>
<use href="#sI" x="1261.5" y="1688.5"/>
<use href="#sI" x="1170.3" y="1670.5"/>
<use href="#sI" x="1234.5" y="1670.5"/>
<use href="#sI" x="1130.4" y="1656.9"/>
<use href="#sI" x="1284.3" y="1655.5"/>
<use href="#sI" x="1147.5" y="1625.3"/>
<use href="#sI" x="1165.1" y="1625.3"/>
<use href="#sI" x="1192.7" y="1625.3"/>
<use href="#sI" x="1228.4" y="1625.3"/>
<use href="#sI" x="1262.9" y="1625.3"/>
<use href="#sI" x="1299.8" y="1625.3"/>
<use href="#sI" x="1170.3" y="1609.8"/>
<use href="#sI" x="1276.9" y="1581.1"/>
<use href="#sI" x="1319.2" y="1576.0"/>
<use href="#sI" x="1244.4" y="1564.9"/>
<use href="#sI" x="1183.5" y="1561.9"/>
<use href="#sI" x="1170.0" y="1557.0"/>
<use href="#sI" x="1209.9" y="1545.2"/>
<use href="#sI" x="1327.6" y="1541.7"/>
<use href="#sI" x="1284.3" y="1536.3"/>
<use href="#sI" x="1173.9" y="1511.3"/>
<use href="#sI" x="1187.0" y="1511.3"/>
<use href="#sI" x="1209.6" y="1511.3"/>
<use href="#sI" x="1245.3" y="1511.3"/>
<use href="#sI" x="1286.1" y="1511.3"/>
<use href="#sI" x="1330.9" y="1511.3"/>
<use href="#sI" x="1284.3" y="1490.2"/>
<use href="#sI" x="1170.0" y="1479.6"/>
<use href="#sI" x="1182.3" y="1469.4"/>
<use href="#sI" x="1326.7" y="1460.3"/>
<use href="#sI" x="1196.7" y="1454.1"/>
<use href="#sI" x="1228.7" y="1451.5"/>
<use href="#sI" x="1272.5" y="1445.0"/>
<use href="#sI" x="1163.7" y="1431.3"/>
<use href="#sI" x="1170.5" y="1431.3"/>
<use href="#sI" x="1170.5" y="1406.5"/>
<use href="#sI" x="1150.0" y="1397.1"/>
<use href="#sI" x="1195.2" y="1397.1"/>
<use href="#sI" x="1252.8" y="1397.3"/>
<use href="#sI" x="1313.9" y="1397.3"/>
<use href="#sI" x="1165.4" y="1396.3"/>
<use href="#sI" x="1127.8" y="1380.9"/>
<use href="#sI" x="1129.6" y="1364.3"/>
<use href="#sI" x="1084.3" y="1362.2"/>
<use href="#sI" x="1170.3" y="1352.8"/>
<use href="#sI" x="1098.2" y="1344.9"/>
<use href="#sI" x="1308.1" y="1344.5"/>
<use href="#sI" x="1233.3" y="1339.9"/>
<use href="#sI" x="1061.6" y="1321.6"/>
<use href="#sI" x="1152.7" y="1313.2"/>
<use href="#sI" x="1057.4" y="1305.3"/>
<use href="#sI" x="1150.1" y="1282.9"/>
<use href="#sI" x="1232.8" y="1282.9"/>
<use href="#sI" x="1312.5" y="1282.9"/>
<use href="#sI" x="1057.4" y="1253.4"/>
<use href="#sI" x="1078.0" y="1241.1"/>
<use href="#sI" x="1170.3" y="1236.2"/>
<use href="#sI" x="1249.7" y="1234.6"/>
<use href="#sI" x="1330.2" y="1223.5"/>
<use href="#sI" x="1124.6" y="1169.8"/>
<use href="#sI" x="1210.4" y="1169.8"/>
<use href="#sI" x="1284.0" y="1169.0"/>
<use href="#sI" x="1356.6" y="1169.8"/>
<use href="#sI" x="1057.4" y="1135.2"/>
<use href="#sI" x="1068.0" y="1129.9"/>
<use href="#sI" x="1087.1" y="1113.6"/>
<use href="#sI" x="1170.3" y="1103.5"/>
<use href="#sI" x="1398.3" y="1102.5"/>
<use href="#sI" x="1417.1" y="1077.1"/>
<use href="#sI" x="1270.8" y="1072.7"/>
<use href="#sI" x="1345.5" y="1074.3"/>
<use href="#sI" x="1057.4" y="1070.1"/>
<use href="#sI" x="1129.0" y="1071.0"/>
<use href="#sI" x="1194.1" y="1071.0"/>
<use href="#sI" x="1082.0" y="1062.5"/>
<use href="#sI" x="1284.3" y="1054.6"/>
<use href="#sI" x="1106.7" y="1043.7"/>
<use href="#sI" x="1170.3" y="1021.9"/>
<use href="#sI" x="1233.7" y="1016.6"/>
<use href="#sI" x="1459.5" y="1018.4"/>
<use href="#sI" x="1322.7" y="1010.5"/>
<use href="#sI" x="1398.3" y="1012.2"/>
<use href="#sI" x="1170.3" y="976.2"/>
<use href="#sI" x="1284.3" y="963.9"/>
<use href="#sI" x="1225.7" y="960.0"/>
<use href="#sI" x="1446.7" y="960.3"/>
<use href="#sI" x="1512.1" y="955.1"/>
<use href="#sI" x="1398.3" y="936.6"/>
<use href="#sI" x="1326.2" y="925.5"/>
<use href="#sI" x="1227.5" y="919.5"/>
<use href="#sI" x="1284.3" y="904.0"/>
<use href="#sI" x="1512.1" y="892.1"/>
<use href="#sI" x="1284.3" y="869.2"/>
<use href="#sI" x="1398.3" y="864.8"/>
<use href="#sI" x="1340.6" y="858.0"/>
<use href="#sI" x="1512.1" y="831.0"/>
<use href="#sI" x="1625.9" y="825.8"/>
<use href="#sI" x="1398.3" y="811.2"/>
<use href="#sI" x="1639.0" y="807.7"/>
<use href="#sI" x="1539.6" y="802.9"/>
<use href="#sI" x="1593.7" y="805.2"/>
<use href="#sI" x="1472.2" y="800.3"/>
<use href="#sI" x="1414.5" y="797.6"/>
<use href="#sI" x="1375.4" y="795.9"/>
<use href="#sI" x="1375.1" y="144.4"/>
<use href="#sI" x="1414.3" y="144.4"/>
<use href="#sI" x="1472.3" y="144.4"/>
<use href="#sI" x="1539.3" y="144.4"/>
<use href="#sI" x="1593.9" y="144.4"/>
<use href="#sI" x="1638.6" y="144.4"/>
<path d="M1122.5 160.0L1122.5 775.5M1104.2 792.5L1073.4 792.5M1256.5 160.0L1256.5 776.7M1344.5 160.0L1344.5 779.0M1059.5 807.5L1059.5 890.0M1242.2 802.5L1184.8 843.8M1157.9 861.1L1110.1 888.2M1080.9 900.7L1074.2 902.6M1331.1 805.5L1298.3 832.0M1273.7 852.6L1183.9 930.5M1159.1 950.7L1089.6 1003.9M1080.0 1396.4L1061.3 1518.8M1060.9 1550.5L1072.2 1638.4M1078.1 1669.8L1084.8 1696.5M1085.3 1371.4L1074.9 1372.7M1103.9 1413.6L1106.3 1451.3M1099.7 1481.4L1091.1 1497.7M1071.3 1544.4L1060.6 1648.0M1132.6 1409.8L1123.5 1420.4M1153.9 1449.7L1140.7 1496.4M1130.4 1526.7L1097.2 1610.9M1160.5 1527.2L1137.1 1610.4" fill="none" stroke="#38005d" stroke-width="1" stroke-dasharray="2 2 2 2 2 2 1 3"/>
<use href="#sP" x="1057.4" y="1747.1"/>
<use href="#sP" x="1070.1" y="1738.8"/>
<use href="#sP" x="1087.1" y="1711.5"/>
<use href="#sP" x="1057.4" y="1663.4"/>
<use href="#sP" x="1072.7" y="1653.8"/>
<use href="#sP" x="1089.8" y="1625.3"/>
<use href="#sP" x="1131.3" y="1625.3"/>
<use href="#sP" x="1057.4" y="1534.1"/>
<use href="#sP" x="1071.5" y="1528.0"/>
<use href="#sP" x="1082.0" y="1511.3"/>
<use href="#sP" x="1134.8" y="1511.3"/>
<use href="#sP" x="1163.3" y="1511.3"/>
<use href="#sP" x="1105.8" y="1466.8"/>
<use href="#sP" x="1156.8" y="1433.8"/>
<use href="#sP" x="1137.2" y="1435.5"/>
<use href="#sP" x="1111.6" y="1432.1"/>
<use href="#sP" x="1141.5" y="1397.1"/>
<use href="#sP" x="1127.0" y="1397.1"/>
<use href="#sP" x="1101.4" y="1397.1"/>
<use href="#sP" x="1080.9" y="1380.1"/>
<use href="#sP" x="1115.5" y="1376.7"/>
<use href="#sP" x="1057.5" y="1374.1"/>
<use href="#sP" x="1099.7" y="1369.0"/>
<use href="#sP" x="1091.2" y="1364.7"/>
<use href="#sP" x="1057.5" y="1361.3"/>
<use href="#sP" x="1057.4" y="1020.5"/>
<use href="#sP" x="1075.3" y="1013.1"/>
<use href="#sP" x="1170.3" y="940.5"/>
<use href="#sP" x="1057.4" y="906.7"/>
<use href="#sP" x="1094.7" y="895.6"/>
<use href="#sP" x="1170.3" y="852.7"/>
<use href="#sP" x="1284.3" y="841.6"/>
<use href="#sP" x="1342.0" y="795.0"/>
<use href="#sP" x="1057.4" y="791.5"/>
<use href="#sP" x="1120.2" y="791.5"/>
<use href="#sP" x="1253.7" y="792.7"/>
<use href="#sP" x="1120.5" y="144.4"/>
<use href="#sP" x="1254.0" y="144.4"/>
<use href="#sP" x="1342.3" y="144.4"/>
<path d="M1058.5 906V1362" stroke="#3a0066" stroke-width="1" fill="none" opacity="0.9"/>
</svg></body></html>
